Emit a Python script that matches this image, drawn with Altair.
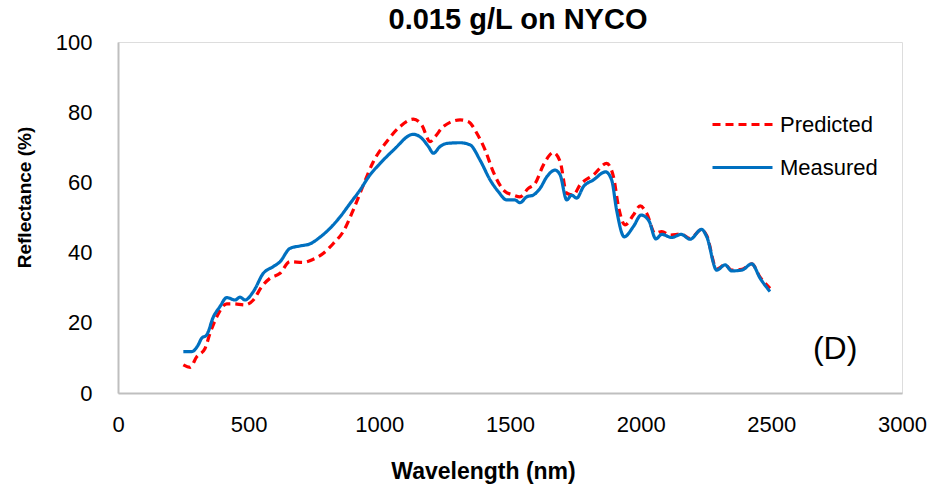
import altair as alt
import pandas as pd

# Measured spectrum (blue solid)
meas_wl = [250, 282, 307, 320, 339, 365, 390, 416, 448, 467, 486, 518, 556, 594, 620, 658,
           697, 735, 773, 811, 850, 888, 926, 964, 1003, 1054, 1130, 1162, 1188, 1207, 1232,
           1258, 1309, 1347, 1385, 1424, 1455, 1488, 1519, 1538, 1564, 1589, 1615, 1641, 1672,
           1692, 1717, 1736, 1755, 1781, 1819, 1866, 1889, 1908, 1937, 1972, 2002, 2032, 2058,
           2081, 2119, 2155, 2189, 2233, 2253, 2291, 2323, 2348, 2387, 2425, 2457, 2495]
meas_r = [11.8, 11.8, 13.7, 15.6, 16.5, 21.7, 24.6, 27.2, 26.5, 27.3, 26.5, 28.9, 34.1, 36.0,
          37.4, 41.2, 41.9, 42.5, 44.4, 46.9, 50.2, 54.0, 57.8, 62.1, 65.4, 69.2, 73.7, 72.6,
          70.2, 68.3, 70.2, 71.1, 71.3, 70.7, 66.4, 60.7, 57.4, 55.0, 55.0, 54.2, 55.9, 56.4,
          58.3, 61.6, 63.5, 62.1, 55.0, 56.4, 55.5, 58.8, 60.7, 63.0, 60.7, 52.1, 44.5, 47.4,
          50.7, 49.0, 43.9, 45.2, 44.3, 45.2, 43.8, 46.6, 44.5, 35.0, 36.5, 34.8, 35.0, 36.8,
          32.7, 28.9]

# Predicted spectrum (red dashed)
pred_wl = [250, 276, 301, 333, 352, 378, 416, 441, 486, 518, 550, 582, 620, 658, 709, 747,
           786, 824, 862, 900, 939, 977, 1028, 1079, 1130, 1162, 1194, 1213, 1245, 1309, 1341,
           1373, 1405, 1436, 1481, 1513, 1538, 1570, 1596, 1628, 1666, 1692, 1717, 1742, 1768,
           1819, 1870, 1896, 1915, 1940, 1972, 1998, 2023, 2055, 2081, 2113, 2155, 2189, 2233,
           2253, 2291, 2323, 2348, 2387, 2425, 2457, 2495]
pred_r = [8.0, 7.3, 10.3, 12.7, 17.0, 21.7, 25.4, 25.4, 25.1, 26.5, 30.3, 32.7, 34.1, 37.4,
          37.2, 38.1, 39.8, 42.6, 46.0, 52.1, 59.3, 65.9, 71.6, 75.9, 78.0, 76.4, 71.6, 73.0,
          75.9, 77.8, 77.3, 74.0, 69.2, 63.0, 57.4, 56.4, 55.9, 58.3, 59.7, 65.0, 68.5, 65.9,
          56.9, 56.4, 59.3, 62.1, 65.4, 61.6, 53.1, 47.9, 50.7, 53.3, 51.2, 45.5, 46.0, 45.0,
          45.3, 44.0, 46.6, 44.8, 35.3, 36.5, 35.0, 35.2, 36.8, 33.0, 29.8]

series_names = ["Predicted", "Measured"]
series_colors = ["#FF0000", "#0070C0"]
x_ticks = [0, 500, 1000, 1500, 2000, 2500, 3000]
y_ticks = [0, 20, 40, 60, 80, 100]

label_text = ["(D)"]
label_wl = [2744]
label_r = [12.5]

df = pd.concat([
    pd.DataFrame({"wl": pred_wl, "r": pred_r, "series": "Predicted", "ord": 0}),
    pd.DataFrame({"wl": meas_wl, "r": meas_r, "series": "Measured", "ord": 1}),
], ignore_index=True)

lab = pd.DataFrame({"wl": label_wl, "r": label_r, "t": label_text})

FONT = "Liberation Sans"

x_enc = alt.X("wl:Q", scale=alt.Scale(domain=[0, 3000], nice=False),
              axis=alt.Axis(values=x_ticks, format="d", title="Wavelength (nm)", grid=False, ticks=False,
                            labelFlush=False,
                            labelPadding=21, labelFontSize=22, labelFont=FONT, labelColor="#000000",
                            domainColor="#BFBFBF", domainWidth=2,
                            titleFont=FONT, titleFontSize=23, titleFontWeight="bold", titleColor="#000000",
                            titleX=365, titleY=85, titleBaseline="alphabetic", titleAlign="center"))
y_enc = alt.Y("r:Q", scale=alt.Scale(domain=[0, 100], nice=False),
              axis=alt.Axis(values=y_ticks, format="d", title="Reflectance (%)", grid=False, ticks=False,
                            labelFlush=False,
                            labelPadding=26, labelFontSize=22, labelFont=FONT, labelColor="#000000",
                            domainColor="#BFBFBF", domainWidth=2,
                            titleFont=FONT, titleFontSize=19, titleFontWeight="bold", titleColor="#000000",
                            titleX=-88, titleY=155, titleBaseline="alphabetic", titleAngle=-90,
                            titleAlign="center"))

lines = alt.Chart(df).mark_line(strokeWidth=3.2, interpolate="monotone").encode(
    x=x_enc,
    y=y_enc,
    color=alt.Color("series:N", scale=alt.Scale(domain=series_names, range=series_colors),
                    legend=alt.Legend(title=None, orient="none", legendX=593, legendY=51,
                                      symbolType="stroke", symbolSize=3600, symbolStrokeWidth=3,
                                      labelFont=FONT, labelFontSize=22, labelColor="#000000",
                                      labelOffset=6, rowPadding=-20, padding=0)),
    strokeDash=alt.StrokeDash("series:N", scale=alt.Scale(domain=series_names, range=[[8, 5], [1, 0]]),
                              legend=None),
    order=alt.Order("ord:Q"),
)

txt = alt.Chart(lab).mark_text(font=FONT, fontSize=32, color="#000000", baseline="middle",
                               align="center").encode(x="wl:Q", y="r:Q", text="t:N")

chart = alt.layer(lines, txt).properties(
    width=784, height=351,
    autosize=alt.AutoSizeParams(type="none"),
    padding={"left": 118, "top": 42, "right": 31, "bottom": 98},
    title=alt.Title("0.015 g/L on NYCO", font=FONT, fontSize=29, fontWeight="bold", color="#000000",
                    anchor="middle", dx=8, dy=36, offset=9, baseline="alphabetic"),
).configure_view(stroke=None).configure(background="#ffffff")

chart.save("out.html", embed_options={"renderer": "svg", "actions": False})
